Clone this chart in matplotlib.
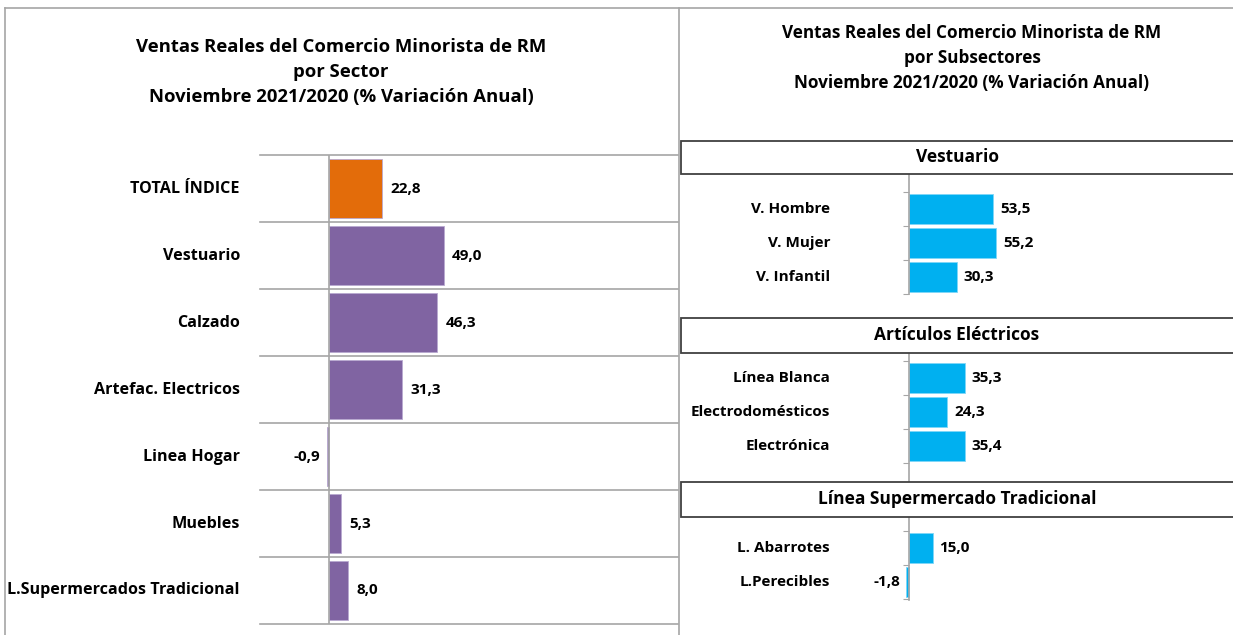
import matplotlib
matplotlib.use("Agg")
import matplotlib.pyplot as plt
from matplotlib.patches import Rectangle
from matplotlib.lines import Line2D

# datos
sectores = ["TOTAL ÍNDICE", "Vestuario", "Calzado", "Artefac. Electricos",
            "Linea Hogar", "Muebles", "L.Supermercados Tradicional"]
var_sector = [22.8, 49.0, 46.3, 31.3, -0.9, 5.3, 8.0]

grupos = ["Vestuario", "Artículos Eléctricos", "Línea Supermercado Tradicional"]
sub_vestuario = ["V. Hombre", "V. Mujer", "V. Infantil"]
var_vestuario = [53.5, 55.2, 30.3]
sub_electricos = ["Línea Blanca", "Electrodomésticos", "Electrónica"]
var_electricos = [35.3, 24.3, 35.4]
sub_super = ["L. Abarrotes", "L.Perecibles"]
var_super = [15.0, -1.8]

W, H = 1233, 635
GRAY = "#a6a6a6"
FONT = "Open Sans"

plt.rcParams["font.family"] = [FONT, "DejaVu Sans"]
plt.rcParams["font.weight"] = "bold"

fig = plt.figure(figsize=(W / 100, H / 100), dpi=100)


def px_axes(x0, y0, x1, y1):
    return fig.add_axes([x0 / W, 1 - y1 / H, (x1 - x0) / W, (y1 - y0) / H])


def fmt(v):
    return f"{v:.1f}".replace(".", ",")


# marcos de los paneles
for xs, ys in [((5, W), (8, 8)), ((5, 5), (8, H)), ((679, 679), (8, H))]:
    fig.add_artist(Line2D([x / W for x in xs], [1 - y / H for y in ys],
                          color=GRAY, lw=1.2, transform=fig.transFigure))

# ---- panel izquierdo
fig.text(341 / W, 1 - 72 / H,
         "Ventas Reales del Comercio Minorista de RM\npor Sector\n"
         "Noviembre 2021/2020 (% Variación Anual)",
         ha="center", va="center", fontsize=13.3, fontweight="bold",
         linespacing=1.5)

ax = px_axes(260, 155, 678, 624)
n = len(sectores)
colores = ["#e36c0a"] + ["#8064a2"] * (n - 1)
ypos = list(range(n))
ax.barh(ypos, var_sector, height=0.88, color=colores,
        edgecolor="#b9a9d0", linewidth=0.6)
ax.set_xlim(-29.5, 149.1)
ax.set_ylim(n - 0.5, -0.5)
for b in range(n + 1):
    ax.axhline(b - 0.5, color=GRAY, lw=1.2, clip_on=False)
ax.axvline(0, color=GRAY, lw=1.2)
for s in ax.spines.values():
    s.set_visible(False)
ax.set_xticks([])
ax.set_yticks([])
tr = ax.get_yaxis_transform()
for y, lab, v in zip(ypos, sectores, var_sector):
    ax.text(-0.048, y, lab, transform=tr, ha="right", va="center",
            fontsize=11.6, fontweight="bold")
    if v >= 0:
        ax.annotate(fmt(v), (v, y), xytext=(6, 0), textcoords="offset points",
                    ha="left", va="center", fontsize=11, fontweight="bold")
    else:
        ax.annotate(fmt(v), (v, y), xytext=(-5, 0), textcoords="offset points",
                    ha="right", va="center", fontsize=11, fontweight="bold")

# ---- panel derecho
fig.text(972 / W, 1 - 58 / H,
         "Ventas Reales del Comercio Minorista de RM\npor Subsectores\n"
         "Noviembre 2021/2020 (% Variación Anual)",
         ha="center", va="center", fontsize=12.3, fontweight="bold",
         linespacing=1.48)

cajas = [(141, 174), (318, 353), (482, 517)]
for (y0, y1), g in zip(cajas, grupos):
    fig.add_artist(Rectangle((681 / W, 1 - y1 / H), (W + 5 - 681) / W,
                             (y1 - y0) / H, transform=fig.transFigure,
                             facecolor="white", edgecolor="#404040", lw=1.3))
    fig.text(957 / W, 1 - (y0 + y1) / 2 / H, g, ha="center", va="center",
             fontsize=12.5, fontweight="bold")

paneles = [
    (174, 294, (2.5, -1.03), sub_vestuario, var_vestuario),
    (353, 482, (3.06, -0.735), sub_electricos, var_electricos),
    (517, 600, (1.53, -0.91), sub_super, var_super),
]
for y0, y1, lim, labs, vals in paneles:
    a = px_axes(850, y0, 1233, y1)
    pos = list(range(len(labs)))
    a.barh(pos, vals, height=0.88, color="#00b0f0", edgecolor="#7fd6f7",
           linewidth=0.6)
    a.set_xlim(-37.5, 205.7)
    a.set_ylim(*lim)
    for k, s in a.spines.items():
        s.set_visible(k == "left")
    a.spines["left"].set_position(("data", 0))
    a.spines["left"].set_color(GRAY)
    a.spines["left"].set_linewidth(1.2)
    a.set_xticks([])
    a.set_yticks([p - 0.5 for p in range(len(labs) + 1)])
    a.tick_params(axis="y", direction="out", length=4, color=GRAY,
                  labelleft=False)
    a.patch.set_alpha(0)
    t = a.get_yaxis_transform()
    for y, lab, v in zip(pos, labs, vals):
        a.text(-0.052, y, lab, transform=t, ha="right", va="center",
               fontsize=11, fontweight="bold")
        if v >= 0:
            a.annotate(fmt(v), (v, y), xytext=(5, 0),
                       textcoords="offset points", ha="left", va="center",
                       fontsize=11, fontweight="bold")
        else:
            a.annotate(fmt(v), (v, y), xytext=(-4, 0),
                       textcoords="offset points", ha="right", va="center",
                       fontsize=11, fontweight="bold")

fig.savefig("out.png", dpi=100)
